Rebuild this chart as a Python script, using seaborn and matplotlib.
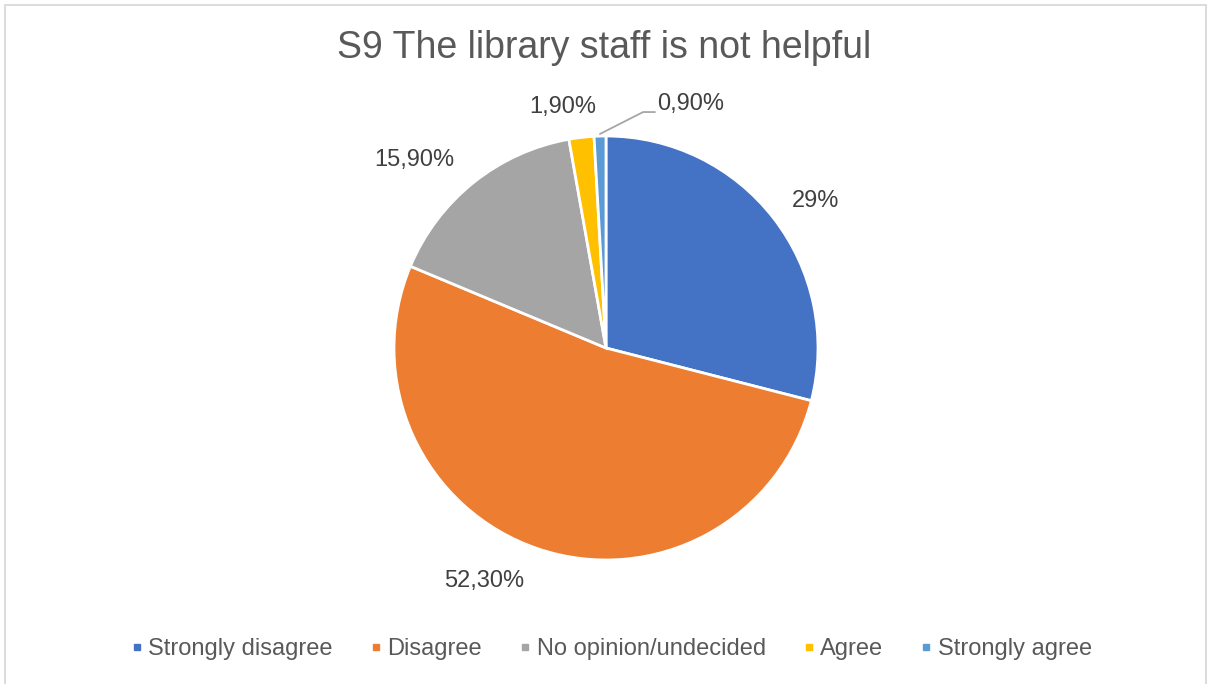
import matplotlib
matplotlib.use("Agg")
import matplotlib.pyplot as plt
from matplotlib.lines import Line2D
import numpy as np
import seaborn as sns

# Survey responses
categories = ["Strongly disagree", "Disagree", "No opinion/undecided", "Agree", "Strongly agree"]
shares = [29.0, 52.3, 15.9, 1.9, 0.9]
value_labels = ["29%", "52,30%", "15,90%", "1,90%", "0,90%"]
title = "S9 The library staff is not helpful"

sns.set_theme(style="white")
plt.rcParams["font.family"] = ["Liberation Sans", "DejaVu Sans"]

colors = ["#4472C4", "#ED7D31", "#A5A5A5", "#FFC000", "#5B9BD5"]

W, H = 1207, 684
fig = plt.figure(figsize=(W / 100, H / 100), dpi=100)
fig.patch.set_facecolor("white")

# chart frame (left, top, right edges)
border = dict(color="#D9D9D9", linewidth=1.3, transform=fig.transFigure)
fig.add_artist(Line2D([4.5 / W, 4.5 / W], [0, 1 - 4.5 / H], **border))
fig.add_artist(Line2D([4.5 / W, 1 - 1.5 / W], [1 - 4.5 / H, 1 - 4.5 / H], **border))
fig.add_artist(Line2D([1 - 1.5 / W, 1 - 1.5 / W], [0, 1 - 4.5 / H], **border))

cx, cy, r = 606, 348, 212
ax = fig.add_axes([(cx - r) / W, (H - cy - r) / H, 2 * r / W, 2 * r / H])
wedges, _ = ax.pie(shares, colors=colors, startangle=90, counterclock=False,
                   radius=1.0, wedgeprops=dict(edgecolor="white", linewidth=2))
ax.set_xlim(-1, 1)
ax.set_ylim(-1, 1)
ax.set_aspect("equal")
ax.axis("off")

# label placement (radius factor, angle nudge in degrees) per slice
label_pos = [(1.209, -2.8), (1.240, -9.1), (1.268, 6.9), (1.155, 3.5), (1.219, -20.8)]
for w, txt, (rf, dang) in zip(wedges, value_labels, label_pos):
    mid = np.deg2rad((w.theta1 + w.theta2) / 2 + dang)
    x, y = rf * np.cos(mid), rf * np.sin(mid)
    ax.text(x, y, txt, ha="center", va="center", fontsize=17, color="#404040",
            clip_on=False)

# leader line for the smallest slice
w = wedges[-1]
mid = np.deg2rad((w.theta1 + w.theta2) / 2)
p0 = (1.01 * np.cos(mid), 1.01 * np.sin(mid))
ax.plot([p0[0], 0.175, 0.231], [p0[1], 1.113, 1.113], color="#A6A6A6",
        linewidth=1.3, clip_on=False)

fig.text(604.5 / W, 1 - 48 / H, title, ha="center", va="center", fontsize=27,
         color="#595959")

handles = [Line2D([0], [0], marker="s", linestyle="none", markersize=5,
                  markerfacecolor=c, markeredgecolor=c) for c in colors]
fig.legend(handles, categories, loc="center", bbox_to_anchor=(611.5 / W, 1 - 649 / H),
           ncol=5, frameon=False, fontsize=17, handletextpad=0.24,
           columnspacing=1.57, labelcolor="#595959", handlelength=0.5)

fig.savefig("out.png", dpi=100, facecolor="white")
